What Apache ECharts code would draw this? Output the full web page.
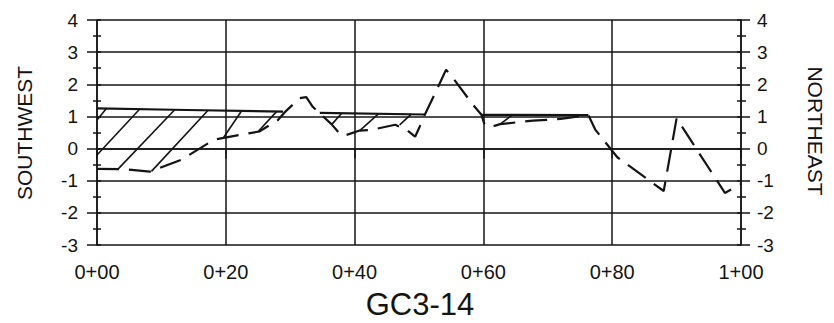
<!DOCTYPE html>
<html>
<head>
<meta charset="utf-8">
<script src="https://cdn.jsdelivr.net/npm/echarts@6/dist/echarts.min.js"></script>
<style>html,body{margin:0;padding:0;background:#fff}#c{width:834px;height:323px}</style>
</head>
<body>
<div id="c"></div>
<script>
// ---- data ----
const stationLabels = ['0+00','0+20','0+40','0+60','0+80','1+00'];
const stationMin = 0, stationMax = 100, stationStep = 20;
const elevMin = -3, elevMax = 4, elevStep = 1;

// dashed ground profile
const groundStation = [0, 4.3, 8.2, 13.1, 18.2, 23.2, 25.2, 28.1, 29.2, 31.5, 32.5, 33.5, 36.4, 37.4, 38.2, 40.8, 42.6, 46.3, 48.1, 49.4, 50.1, 50.9, 52.5, 54.2, 55.1, 58.4, 59.7, 60.2, 61.3, 62.6, 67.7, 72, 76.3, 77.4, 80.8, 88, 90, 97.5, 100];
const groundElev    = [-0.63, -0.64, -0.72, -0.35, 0.28, 0.46, 0.53, 0.89, 1.14, 1.57, 1.6, 1.3, 0.76, 0.53, 0.39, 0.56, 0.58, 0.74, 0.58, 0.37, 0.68, 1.05, 1.72, 2.45, 2.24, 1.36, 1.05, 0.74, 0.68, 0.76, 0.87, 0.92, 1.04, 0.58, -0.27, -1.32, 0.94, -1.38, -1.1];

// solid top line (null = break)
const topStation = [0, 14, 28.9, null, 34.6, 50.9, null, 59.7, 76.3];
const topElev    = [1.25, 1.2, 1.15, null, 1.11, 1.06, null, 1.05, 1.04];

// hatch strokes: upper end and lower end
const hatchTopStation  = [1.46, 6.64, 12.07, 17.25, 22.44, 27.88, 38.0, 43.7, 48.8, 64.5];
const hatchTopElev     = [1.245, 1.23, 1.21, 1.19, 1.17, 1.15, 1.10, 1.08, 1.07, 1.05];
const hatchBaseStation = [0, 0, 3.26, 8.45, 19.58, 25.02, 36.5, 40.8, 47.0, 62.6];
const hatchBaseElev    = [0.89, -0.20, -0.64, -0.71, 0.32, 0.53, 0.76, 0.56, 0.74, 0.76];

// ---- build chart ----
const INK = '#141414';
const FONT = '"Liberation Sans", Arial, Helvetica, sans-serif';

const groundData = groundStation.map((s, i) => [s, groundElev[i]]);
const topData = topStation.map((s, i) => s === null ? '-' : [s, topElev[i]]);

const series = [
  { type: 'line', data: topData, symbol: 'none', connectNulls: false, silent: true,
    lineStyle: { color: INK, width: 2.2, type: 'solid' }, z: 4 },
  { type: 'line', data: groundData, symbol: 'none', silent: true,
    lineStyle: { color: INK, width: 2.2, type: [22, 10] }, z: 5 }
];
hatchTopStation.forEach((s, i) => {
  series.push({ type: 'line', symbol: 'none', silent: true,
    data: [[hatchBaseStation[i], hatchBaseElev[i]], [s, hatchTopElev[i]]],
    lineStyle: { color: INK, width: 1.6 }, z: 3 });
});

const yBase = {
  type: 'value', min: elevMin, max: elevMax, interval: elevStep
};

const chart = echarts.init(document.getElementById('c'), null, { renderer: 'svg' });
chart.setOption({
  animation: false,
  backgroundColor: '#fff',
  grid: { left: 97, right: 93, top: 20, bottom: 78, containLabel: false },
  xAxis: [{
    type: 'value', min: stationMin, max: stationMax, interval: stationStep,
    axisLine: { show: true, lineStyle: { color: INK, width: 1.5 } },
    axisTick: { show: true, length: 10, lineStyle: { color: INK, width: 1.5 } },
    splitLine: { show: true, lineStyle: { color: INK, width: 1.5 } },
    axisLabel: { color: INK, fontFamily: FONT, fontSize: 20, margin: 17,
      formatter: v => stationLabels[Math.round((v - stationMin) / stationStep)] }
  }],
  yAxis: [
    Object.assign({}, yBase, {
      position: 'left',
      axisLine: { show: true, lineStyle: { color: INK, width: 1.5 } },
      axisTick: { show: true, length: 10, lineStyle: { color: INK, width: 1.5 } },
      minorTick: { show: true, splitNumber: 2, length: 4, lineStyle: { color: INK, width: 1.5 } },
      splitLine: { show: true, lineStyle: { color: INK, width: 1.5 } },
      axisLabel: { color: INK, fontFamily: FONT, fontSize: 19, margin: 19 }
    }),
    Object.assign({}, yBase, {
      position: 'right',
      axisLine: { show: true, lineStyle: { color: INK, width: 1.5 } },
      axisTick: { show: true, length: 9, lineStyle: { color: INK, width: 1.5 } },
      minorTick: { show: true, splitNumber: 2, length: 5, lineStyle: { color: INK, width: 1.5 } },
      splitLine: { show: false },
      axisLabel: { color: INK, fontFamily: FONT, fontSize: 19, margin: 16 }
    }),
    Object.assign({}, yBase, {
      position: 'left', interval: elevStep / 2,
      axisLine: { show: false },
      axisTick: { show: true, inside: true, length: 4, lineStyle: { color: INK, width: 1.5 } },
      splitLine: { show: false }, axisLabel: { show: false }
    }),
    Object.assign({}, yBase, {
      position: 'right', interval: elevStep / 2,
      axisLine: { show: false },
      axisTick: { show: true, inside: true, length: 4, lineStyle: { color: INK, width: 1.5 } },
      splitLine: { show: false }, axisLabel: { show: false }
    })
  ],
  graphic: [
    { type: 'text', x: 24, y: 133, rotation: Math.PI / 2,
      style: { text: 'SOUTHWEST', fill: INK, font: '21px ' + FONT, textAlign: 'center', textVerticalAlign: 'middle' } },
    { type: 'text', x: 815, y: 131, rotation: -Math.PI / 2,
      style: { text: 'NORTHEAST', fill: INK, font: '21px ' + FONT, textAlign: 'center', textVerticalAlign: 'middle' } },
    { type: 'text', x: 420, y: 304,
      style: { text: 'GC3-14', fill: INK, font: '31px ' + FONT, textAlign: 'center', textVerticalAlign: 'middle' } }
  ],
  series: series
});
</script>
</body>
</html>
